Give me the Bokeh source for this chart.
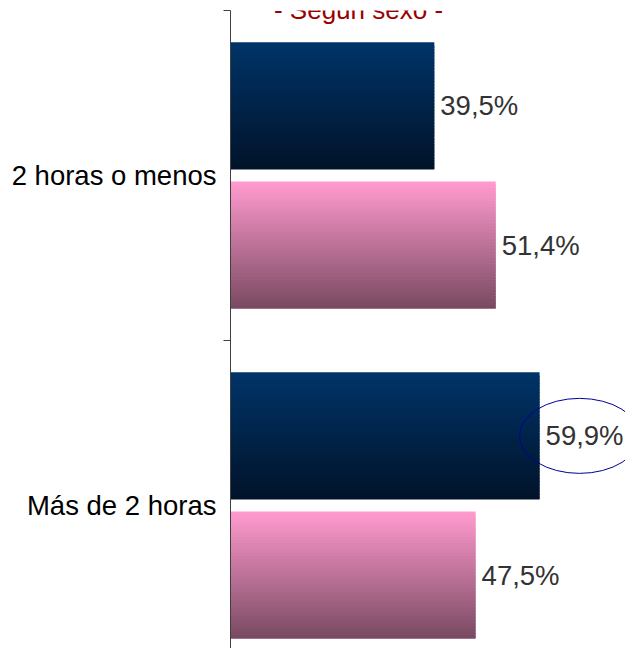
from bokeh.plotting import figure
from bokeh.models import Range1d, FixedTicker, Label, ColumnDataSource
from bokeh.embed import file_html
from bokeh.resources import INLINE
from bokeh.core.properties import value

# ---- data ----
categories = ["2 horas o menos", "Más de 2 horas"]
hombres = [39.5, 59.9]
mujeres = [51.4, 47.5]
title_text = "- Según sexo -"

def fmt(v):
    return ("%.1f%%" % v).replace(".", ",")

# ---- styling ----
FONT = "Liberation Sans"
male_top, male_bot = (0, 52, 104), (1, 19, 42)
fem_top, fem_bot = (255, 154, 206), (122, 74, 98)
BAR_H = 0.385
OFFSET = 0.211
N_STRIPS = 40
FRAME_W, FRAME_H = 395, 638
PX_X, PX_Y = 5.16, 330.0

p = figure(
    frame_width=FRAME_W, frame_height=FRAME_H,
    x_range=Range1d(0, FRAME_W / PX_X),
    y_range=Range1d(start=0.5 + FRAME_H / PX_Y, end=0.5),
    x_axis_location=None,
    toolbar_location=None,
    output_backend="svg",
    min_border_left=230, min_border_right=0,
    min_border_top=10, min_border_bottom=0,
    background_fill_color="white",
    border_fill_color="white",
)
p.outline_line_color = None
p.grid.visible = False

def lerp(c0, c1, t):
    return "#%02x%02x%02x" % tuple(int(round(a + (b - a) * t)) for a, b in zip(c0, c1))

def gradient_bar(val, yc, ctop, cbot):
    top = yc - BAR_H / 2
    bot = yc + BAR_H / 2
    step = BAR_H / N_STRIPS
    tops, bots, rights, cols = [], [], [], []
    for i in range(N_STRIPS):
        t = i / (N_STRIPS - 1)
        tops.append(top + i * step)
        bots.append(min(top + (i + 1.8) * step, bot))
        rights.append(val)
        cols.append(lerp(ctop, cbot, t))
    src = ColumnDataSource(dict(top=tops, bottom=bots, right=rights, color=cols))
    p.quad(left=0, right="right", top="top", bottom="bottom", source=src,
           fill_color="color", line_color=None)

lab_x, lab_y, lab_t = [], [], []
for i, cat in enumerate(categories):
    yc = i + 1
    gradient_bar(hombres[i], yc - OFFSET, male_top, male_bot)
    gradient_bar(mujeres[i], yc + OFFSET, fem_top, fem_bot)
    lab_x += [hombres[i], mujeres[i]]
    lab_y += [yc - OFFSET, yc + OFFSET]
    lab_t += [fmt(hombres[i]), fmt(mujeres[i])]

p.text(x=lab_x, y=lab_y, text=lab_t, x_offset=6, text_baseline="middle",
       text_align="left", text_font=value(FONT), text_font_size="27.5px",
       text_color="#333333")

# highlight ellipse around the largest male value
hi = max(range(len(hombres)), key=lambda k: hombres[k])
p.ellipse(x=[hombres[hi] + 40 / PX_X], y=[hi + 1 - OFFSET], width=120, height=75,
          width_units="screen", height_units="screen",
          fill_color=None, line_color="#000099", line_width=1)

# axis
ax = p.yaxis[0]
ax.ticker = FixedTicker(ticks=[1, 2], minor_ticks=[0.5, 1.5, 2.5])
ax.major_label_overrides = {1: categories[0], 2: categories[1]}
ax.major_tick_line_color = None
ax.major_tick_out = 0
ax.major_tick_in = 0
ax.minor_tick_out = 7
ax.minor_tick_in = 0
ax.minor_tick_line_color = "#404040"
ax.axis_line_color = "#404040"
ax.major_label_standoff = 7
ax.major_label_text_font = FONT
ax.major_label_text_font_size = "27.5px"
ax.major_label_text_color = "black"

# title (cut at top, as in the reference)
p.add_layout(Label(x=128 / PX_X, y=0.5, text=title_text, text_align="center",
                   text_baseline="alphabetic", y_offset=1,
                   text_font=FONT, text_font_size="26px", text_color="#990000"))

open("out.html", "w").write(file_html(p, INLINE))
